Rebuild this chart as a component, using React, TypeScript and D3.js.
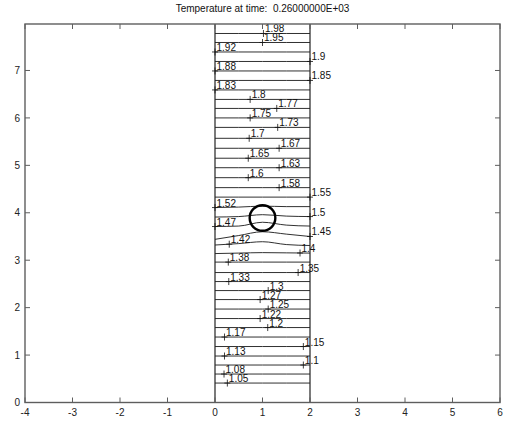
import React from "react";
import * as d3 from "d3";

const W = 505;
const H = 422;

const titleText = "Temperature at time:\u00a0\u00a00.26000000E+03";
const xTicks = [-4, -3, -2, -1, 0, 1, 2, 3, 4, 5, 6];
const yTicks = [0, 1, 2, 3, 4, 5, 6, 7];

// contour levels (bottom to top)
const contourLevels = [
  1.05, 1.075, 1.1, 1.125, 1.15, 1.175, 1.2, 1.225, 1.25, 1.275, 1.3, 1.325,
  1.35, 1.375, 1.4, 1.425, 1.45, 1.475, 1.5, 1.525, 1.55, 1.575, 1.6, 1.625,
  1.65, 1.675, 1.7, 1.725, 1.75, 1.775, 1.8, 1.825, 1.85, 1.875, 1.9, 1.925,
  1.95, 1.975,
];
const contourLabelText = [
  "1.05", "1.08", "1.1", "1.13", "1.15", "1.17", "1.2", "1.22", "1.25", "1.27",
  "1.3", "1.33", "1.35", "1.38", "1.4", "1.42", "1.45", "1.47", "1.5", "1.52",
  "1.55", "1.58", "1.6", "1.63", "1.65", "1.67", "1.7", "1.73", "1.75", "1.77",
  "1.8", "1.83", "1.85", "1.88", "1.9", "1.92", "1.95", "1.98",
];
// x positions where each contour's y is read
const contourXs = [0, 0.5, 1, 1.5, 2];
// y of each contour at contourXs
const contourYs = [
  [0.41, 0.41, 0.41, 0.41, 0.41],
  [0.6, 0.6, 0.6, 0.6, 0.6],
  [0.79, 0.79, 0.79, 0.79, 0.79],
  [0.98, 0.98, 0.98, 0.98, 0.98],
  [1.18, 1.18, 1.18, 1.18, 1.18],
  [1.38, 1.38, 1.38, 1.38, 1.38],
  [1.58, 1.58, 1.58, 1.58, 1.58],
  [1.77, 1.77, 1.77, 1.77, 1.77],
  [1.97, 1.97, 1.97, 1.97, 1.97],
  [2.17, 2.17, 2.17, 2.17, 2.17],
  [2.36, 2.36, 2.36, 2.36, 2.36],
  [2.55, 2.55, 2.55, 2.55, 2.55],
  [2.74, 2.74, 2.74, 2.74, 2.74],
  [2.96, 2.96, 2.96, 2.96, 2.96],
  [3.14, 3.15, 3.16, 3.155, 3.15],
  [3.32, 3.35, 3.39, 3.33, 3.31],
  [3.44, 3.52, 3.6, 3.55, 3.5],
  [3.71, 3.72, 3.8, 3.74, 3.72],
  [3.91, 3.92, 3.96, 3.93, 3.92],
  [4.11, 4.12, 4.14, 4.13, 4.13],
  [4.33, 4.33, 4.33, 4.33, 4.33],
  [4.53, 4.53, 4.53, 4.53, 4.53],
  [4.74, 4.74, 4.74, 4.74, 4.74],
  [4.95, 4.95, 4.95, 4.95, 4.95],
  [5.15, 5.15, 5.15, 5.15, 5.15],
  [5.36, 5.36, 5.36, 5.36, 5.36],
  [5.57, 5.57, 5.57, 5.57, 5.57],
  [5.8, 5.8, 5.8, 5.8, 5.8],
  [6.0, 6.0, 6.0, 6.0, 6.0],
  [6.2, 6.2, 6.2, 6.2, 6.2],
  [6.39, 6.39, 6.39, 6.39, 6.39],
  [6.59, 6.59, 6.59, 6.59, 6.59],
  [6.79, 6.79, 6.79, 6.79, 6.79],
  [6.99, 6.99, 6.99, 6.99, 6.99],
  [7.19, 7.19, 7.19, 7.19, 7.19],
  [7.39, 7.39, 7.39, 7.39, 7.39],
  [7.59, 7.59, 7.59, 7.59, 7.59],
  [7.78, 7.78, 7.78, 7.78, 7.78],
];
// x of the '+' marker of each contour label
const contourLabelX = [
  0.26, 0.19, 1.86, 0.2, 1.86, 0.2, 1.11, 0.95, 1.12, 0.95, 1.12, 0.29, 1.75,
  0.28, 1.79, 0.3, 2.0, 0.0, 2.0, 0.0, 2.0, 1.35, 0.7, 1.35, 0.7, 1.35, 0.72,
  1.32, 0.74, 1.3, 0.74, 0.0, 2.0, 0.0, 2.0, 0.0, 1.0, 1.02,
];

// domain boundaries and obstacle
const stripX = [0, 2];
const stripTop = 7.98;
const circleCenter = [1.0, 3.89];
const circleRadius = 0.27;

const FONT = "'Liberation Sans', Arial, Helvetica, sans-serif";

export default function App() {
  const x = d3.scaleLinear().domain([-4, 6]).range([25, 500]);
  const y = d3.scaleLinear().domain([0, 7.98]).range([402.5, 24]);

  const line = d3
    .line<[number, number]>()
    .x((d) => x(d[0]))
    .y((d) => y(d[1]))
    .curve(d3.curveMonotoneX);

  const interpY = (ys: number[], xv: number) => {
    const f = d3.scaleLinear().domain(contourXs).range(ys);
    return f(xv);
  };

  const [x0, x1] = x.range();
  const [yb, yt] = y.range();
  const tickLen = 5;
  const frameColor = "#5e5e5e";

  return (
    <svg
      width={W}
      height={H}
      style={{ position: "absolute", left: 0, top: 0, background: "#fff" }}
      fontFamily={FONT}
    >
      <rect x={0} y={0} width={W} height={H} fill="#fff" />
      {/* title */}
      <text x={(x0 + x1) / 2} y={12} fontSize={10} textAnchor="middle" fill="#111">
        {titleText}
      </text>

      {/* contour lines */}
      <g fill="none" stroke="#1a1a1a" strokeWidth={0.9}>
        {contourYs.map((ys, i) => (
          <path
            key={i}
            d={line(contourXs.map((xv, j) => [xv, ys[j]] as [number, number])) || ""}
          />
        ))}
      </g>

      {/* strip boundaries */}
      <g stroke="#222" strokeWidth={1.2}>
        {stripX.map((sx) => (
          <line key={sx} x1={x(sx)} x2={x(sx)} y1={y(0)} y2={y(stripTop)} />
        ))}
      </g>

      {/* obstacle circle */}
      <ellipse
        cx={x(circleCenter[0])}
        cy={y(circleCenter[1])}
        rx={x(circleRadius) - x(0)}
        ry={y(0) - y(circleRadius)}
        fill="none"
        stroke="#000"
        strokeWidth={2.4}
      />

      {/* contour labels */}
      <g fontSize={10} fill="#111">
        {contourLevels.map((lv, i) => {
          const lx = contourLabelX[i];
          const px = x(lx);
          const py = y(interpY(contourYs[i], lx));
          return (
            <g key={lv}>
              <path
                d={`M${px - 3},${py}H${px + 3}M${px},${py - 3.5}V${py + 3.5}`}
                stroke="#111"
                strokeWidth={0.8}
                fill="none"
              />
              <text x={px + 1.5} y={py - 1}>
                {contourLabelText[i]}
              </text>
            </g>
          );
        })}
      </g>

      {/* frame */}
      <rect
        x={x0}
        y={yt}
        width={x1 - x0}
        height={yb - yt}
        fill="none"
        stroke={frameColor}
        strokeWidth={1.4}
      />
      {/* ticks */}
      <g stroke={frameColor} strokeWidth={1}>
        {xTicks.map((t) => (
          <g key={t}>
            <line x1={x(t)} x2={x(t)} y1={yb} y2={yb - tickLen} />
            <line x1={x(t)} x2={x(t)} y1={yt} y2={yt + tickLen} />
          </g>
        ))}
        {yTicks.map((t) => (
          <g key={t}>
            <line x1={x0} x2={x0 + tickLen} y1={y(t)} y2={y(t)} />
            <line x1={x1} x2={x1 - tickLen} y1={y(t)} y2={y(t)} />
          </g>
        ))}
      </g>
      <g fontSize={10} fill="#222">
        {xTicks.map((t) => (
          <text key={t} x={x(t)} y={416} textAnchor="middle">
            {t < 0 ? "-" + Math.abs(t) : String(t)}
          </text>
        ))}
        {yTicks.map((t) => (
          <text key={t} x={20} y={y(t) + 3.6} textAnchor="end">
            {String(t)}
          </text>
        ))}
      </g>
    </svg>
  );
}
